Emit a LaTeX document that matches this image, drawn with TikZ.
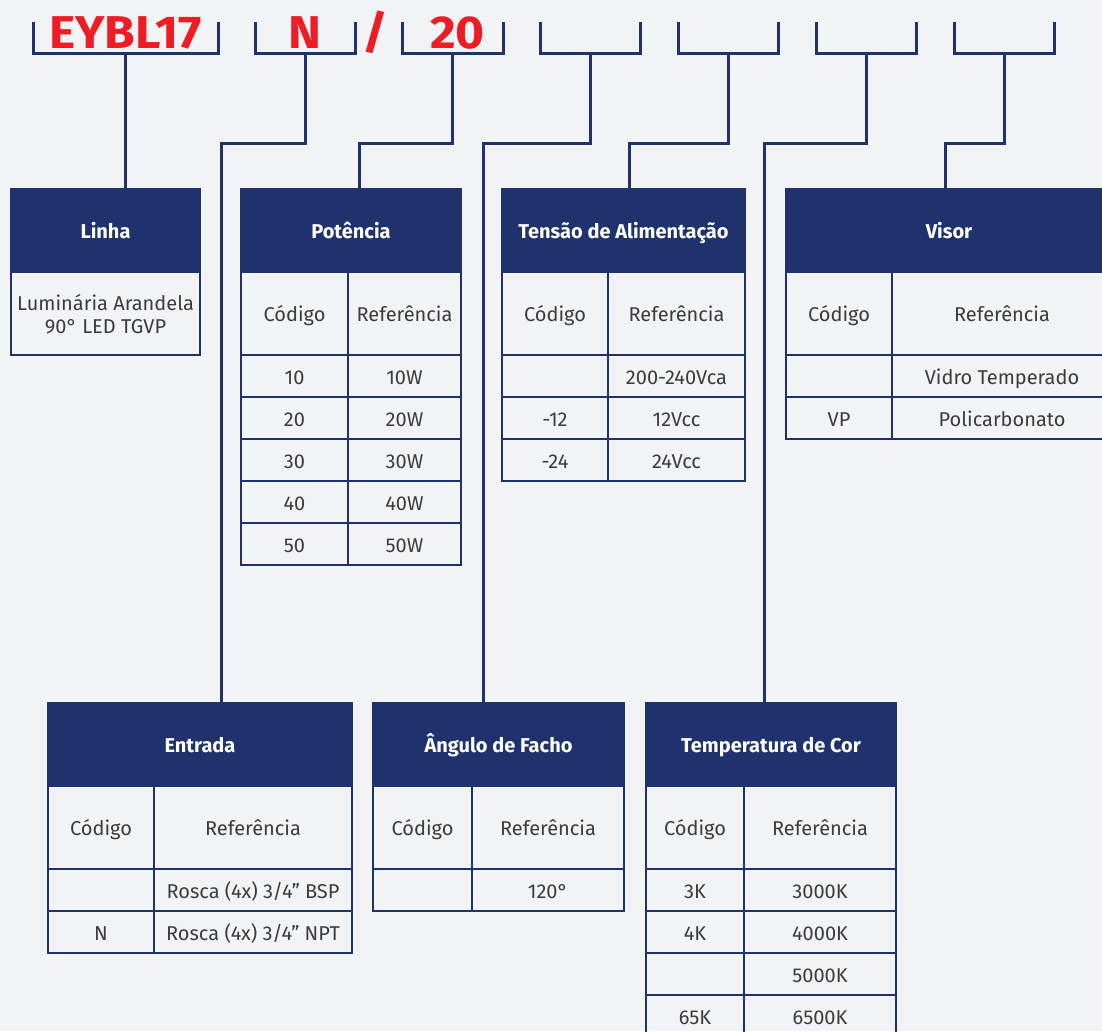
\documentclass[tikz,border=0pt]{standalone}
\usepackage{fontspec}
\setmainfont{Fira Sans}
\usetikzlibrary{positioning}
\definecolor{navy}{HTML}{1F326E}
\definecolor{codered}{HTML}{EE1C25}
\definecolor{txt}{HTML}{3C3C3C}
\definecolor{bg}{HTML}{F2F3F5}
\newcommand\cellfont{\fontsize{20}{23}\selectfont}
\newcommand\headfont{\fontsize{20}{23}\selectfont\bfseries}
\newcommand\codefont{\fontsize{46}{50}\selectfont\bfseries\addfontfeature{FakeStretch=1.08}}
\tikzset{
  wire/.style={draw=navy, line width=3pt},
  bracket/.style={minimum height=31pt, inner sep=0pt, outer sep=0pt},
  code/.style={text=codered, font=\codefont, inner sep=0pt, anchor=base},
  head/.style={fill=navy, draw=navy, line width=2pt, text=white, font=\headfont,
    minimum height=83pt, inner sep=0pt, outer sep=0pt, text height=19pt, text depth=4pt},
  cell/.style={draw=navy, line width=2pt, text=txt, font=\cellfont, minimum height=42pt,
    inner sep=0pt, outer sep=0pt, text height=20pt, text depth=4pt},
  tall/.style={minimum height=83pt},
}
\begin{document}
\begin{tikzpicture}[x=1pt,y=1pt]
  \useasboundingbox (0,0) rectangle (1102,-1031);
  \clip (0,0) rectangle (1102,-1031);
  \fill[bg] (0,0) rectangle (1102,-1031);
  % codigo do produto
  \node[bracket, minimum width=185pt] (b1) at (125.5,-37.5) {};
  \node[bracket, minimum width=100pt] (b2) at (305,-37.5) {};
  \node[bracket, minimum width=101pt] (b3) at (452.5,-37.5) {};
  \foreach \n/\x in {4/590,5/728,6/866,7/1004}
    \node[bracket, minimum width=100pt] (b\n) at (\x,-37.5) {};
  \foreach \n in {1,...,7}
    \draw[wire] (b\n.north west) |- (b\n.south east) -- (b\n.north east);
  \node[code] (t1) at ([yshift=5pt]b1.south) {EYBL17};
  \node[code] (t2) at ([yshift=5pt]b2.south) {N};
  \node[code] (sl) at (375,-48) {/};
  \node[code] (t3) at ([xshift=5pt,yshift=5pt]b3.south) {20};
  % Linha
  \node[head, minimum width=189pt] (lin) at (105.5,-230.5) {Linha};
  \node[cell, tall, minimum width=189pt, align=center, text height=43pt, below=0pt of lin] (lin-b)
    {Luminária Arandela\\90° LED TGVP};
  % Potencia
  \node[head, minimum width=220pt] (pot) at (351,-230.5) {Potência};
  \node[cell, tall, minimum width=107pt, below right=0pt and 0pt of pot.south west] (pot-c0) {Código};
  \node[cell, tall, minimum width=113pt, right=0pt of pot-c0] (pot-r0) {Referência};
  \foreach \c/\r [count=\i] in {10/10W,20/20W,30/30W,40/40W,50/50W}{
    \pgfmathtruncatemacro\j{\i-1}
    \node[cell, minimum width=107pt, below=0pt of pot-c\j] (pot-c\i) {\c};
    \node[cell, minimum width=113pt, right=0pt of pot-c\i] (pot-r\i) {\r};
  }
  % Tensao
  \node[head, minimum width=243pt] (ten) at (623.5,-230.5) {Tensão de Alimentação};
  \node[cell, tall, minimum width=106pt, below right=0pt and 0pt of ten.south west] (ten-c0) {Código};
  \node[cell, tall, minimum width=137pt, right=0pt of ten-c0] (ten-r0) {Referência};
  \foreach \c/\r [count=\i] in {/200-240Vca,-12/12Vcc,-24/24Vcc}{
    \pgfmathtruncatemacro\j{\i-1}
    \node[cell, minimum width=106pt, below=0pt of ten-c\j] (ten-c\i) {\c};
    \node[cell, minimum width=137pt, right=0pt of ten-c\i] (ten-r\i) {\r};
  }
  % Visor
  \node[head, minimum width=326pt] (vis) at (949,-230.5) {Visor};
  \node[cell, tall, minimum width=106pt, below right=0pt and 0pt of vis.south west] (vis-c0) {Código};
  \node[cell, tall, minimum width=220pt, right=0pt of vis-c0] (vis-r0) {Referência};
  \foreach \c/\r [count=\i] in {/Vidro Temperado,VP/Policarbonato}{
    \pgfmathtruncatemacro\j{\i-1}
    \node[cell, minimum width=106pt, below=0pt of vis-c\j] (vis-c\i) {\c};
    \node[cell, minimum width=220pt, right=0pt of vis-c\i] (vis-r\i) {\r};
  }
  % Entrada
  \node[head, minimum width=304pt] (ent) at (200,-744.5) {Entrada};
  \node[cell, tall, minimum width=106pt, below right=0pt and 0pt of ent.south west] (ent-c0) {Código};
  \node[cell, tall, minimum width=198pt, right=0pt of ent-c0] (ent-r0) {Referência};
  \foreach \c/\r [count=\i] in {{}/{Rosca (4x) 3/4” BSP},N/{Rosca (4x) 3/4” NPT}}{
    \pgfmathtruncatemacro\j{\i-1}
    \node[cell, minimum width=106pt, below=0pt of ent-c\j] (ent-c\i) {\c};
    \node[cell, minimum width=198pt, right=0pt of ent-c\i] (ent-r\i) {\r};
  }
  % Angulo de facho
  \node[head, minimum width=251pt] (ang) at (498.5,-744.5) {Ângulo de Facho};
  \node[cell, tall, minimum width=99pt, below right=0pt and 0pt of ang.south west] (ang-c0) {Código};
  \node[cell, tall, minimum width=152pt, right=0pt of ang-c0] (ang-r0) {Referência};
  \node[cell, minimum width=99pt, below=0pt of ang-c0] (ang-c1) {};
  \node[cell, minimum width=152pt, right=0pt of ang-c1] (ang-r1) {120°};
  % Temperatura de cor
  \node[head, minimum width=250pt] (tmp) at (771,-744.5) {Temperatura de Cor};
  \node[cell, tall, minimum width=98pt, below right=0pt and 0pt of tmp.south west] (tmp-c0) {Código};
  \node[cell, tall, minimum width=152pt, right=0pt of tmp-c0] (tmp-r0) {Referência};
  \foreach \c/\r [count=\i] in {3K/3000K,4K/4000K,/5000K,65K/6500K}{
    \pgfmathtruncatemacro\j{\i-1}
    \node[cell, minimum width=98pt, below=0pt of tmp-c\j] (tmp-c\i) {\c};
    \node[cell, minimum width=152pt, right=0pt of tmp-c\i] (tmp-r\i) {\r};
  }
  % ligacoes
  \coordinate (knee) at (0,-143);
  \coordinate (ent-in) at (221,-703);
  \coordinate (pot-in) at (359,-189);
  \coordinate (ang-in) at (483,-703);
  \coordinate (ten-in) at (629,-189);
  \coordinate (tmp-in) at (764,-703);
  \coordinate (vis-in) at (945,-189);
  \draw[wire] (b1.south) -- (b1.south |- lin.north);
  \draw[wire] (b2.south) |- (knee -| ent-in) -- (ent-in);
  \draw[wire] (b3.south) |- (knee -| pot-in) -- (pot-in);
  \draw[wire] (b4.south) |- (knee -| ang-in) -- (ang-in);
  \draw[wire] (b5.south) |- (knee -| ten-in) -- (ten-in);
  \draw[wire] (b6.south) |- (knee -| tmp-in) -- (tmp-in);
  \draw[wire] (b7.south) |- (knee -| vis-in) -- (vis-in);
\end{tikzpicture}
\end{document}
